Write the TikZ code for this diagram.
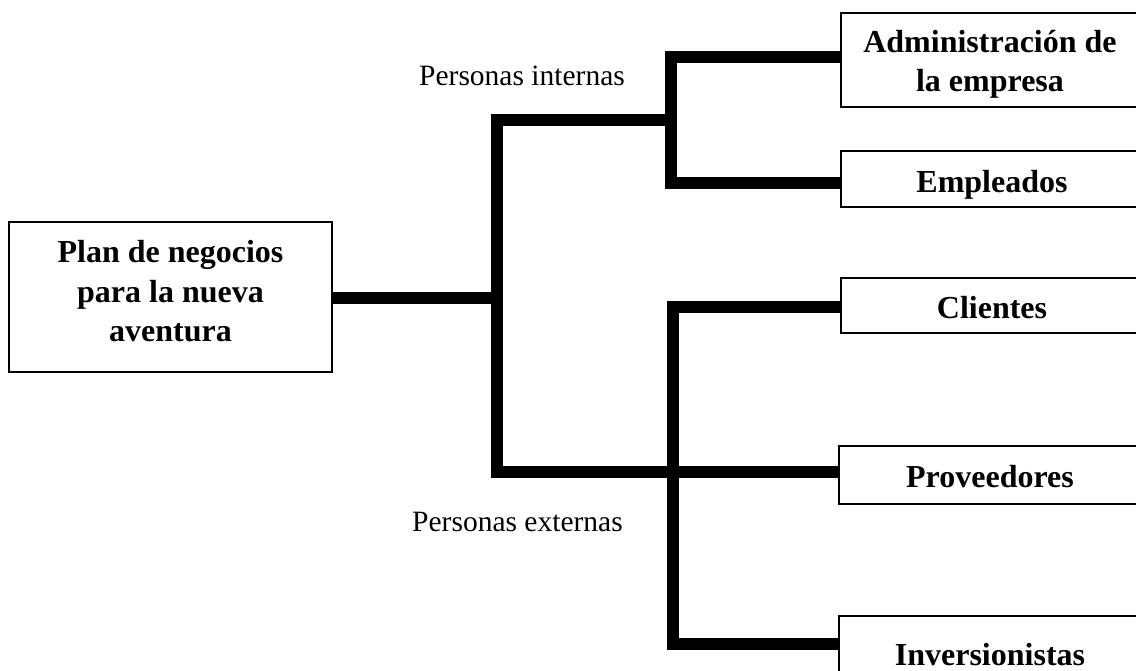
\documentclass[tikz,border=0pt]{standalone}
\usepackage{fontspec}
\setmainfont{Liberation Serif}
\begin{document}
\begin{tikzpicture}[x=1pt,y=-1pt,
  box/.style={draw, line width=1.8pt, inner sep=0pt, outer sep=0pt,
    minimum width=300pt, anchor=west},
  rootbox/.style={draw, line width=1.8pt, inner sep=0pt, outer sep=0pt,
    minimum width=323pt, minimum height=150pt},
  lbl/.style={font=\bfseries\fontsize{32}{39.5}\selectfont, anchor=base, inner sep=0pt},
  note/.style={font=\fontsize{29.5}{36}\selectfont, anchor=base, inner sep=0pt},
  link/.style={line width=12pt, line join=miter}]
\useasboundingbox (0,0) rectangle (1136,671);

% root of the tree
\node[rootbox] (plan) at (170.5,297) {};
\node[lbl, align=center, anchor=north] (plant) at (170.5,240.5) {Plan de negocios\\para la nueva\\aventura};

% leaf boxes (their right sides run past the page edge)
\node[box, minimum height=94pt] (adm) at (841,60) {};
\node[box, minimum height=56pt] (emp) at (841,179) {};
\node[box, minimum height=55pt] (cli) at (841,305.5) {};
\node[box, minimum height=58pt] (prov) at (839,475) {};
\node[box, minimum height=58pt] (inv) at (839,645) {};

% box texts
\node[lbl, align=center, anchor=north] (admt) at (990,30) {Administración de\\la empresa};
\node[lbl] (empt) at (992,193) {Empleados};
\node[lbl] (clit) at (992,319) {Clientes};
\node[lbl] (provt) at (990,487) {Proveedores};
\node[lbl] (invt) at (990,665) {Inversionistas};

% group labels
\node[note] (pint) at (522,86) {Personas internas};
\node[note] (pext) at (517.5,531) {Personas externas};

% junction points
\coordinate (j0) at (497,298);
\coordinate (jtop) at (497,120);
\coordinate (jbot) at (497,472);
\coordinate (ja) at (671,120);
\coordinate (jb) at (673,307);
\coordinate (jc) at (673,644);

% connectors
\draw[link] (plan.east |- j0) -- (j0);
\draw[link] (ja) -- (jtop) -- (jbot) -- (prov.west |- jbot);
\draw[link] (adm.west |- 0,57) -- (ja |- 0,57) -- (ja |- 0,183) -- (emp.west |- 0,183);
\draw[link] (cli.west |- jb) -- (jb) -- (jc) -- (inv.west |- jc);
\end{tikzpicture}
\end{document}
